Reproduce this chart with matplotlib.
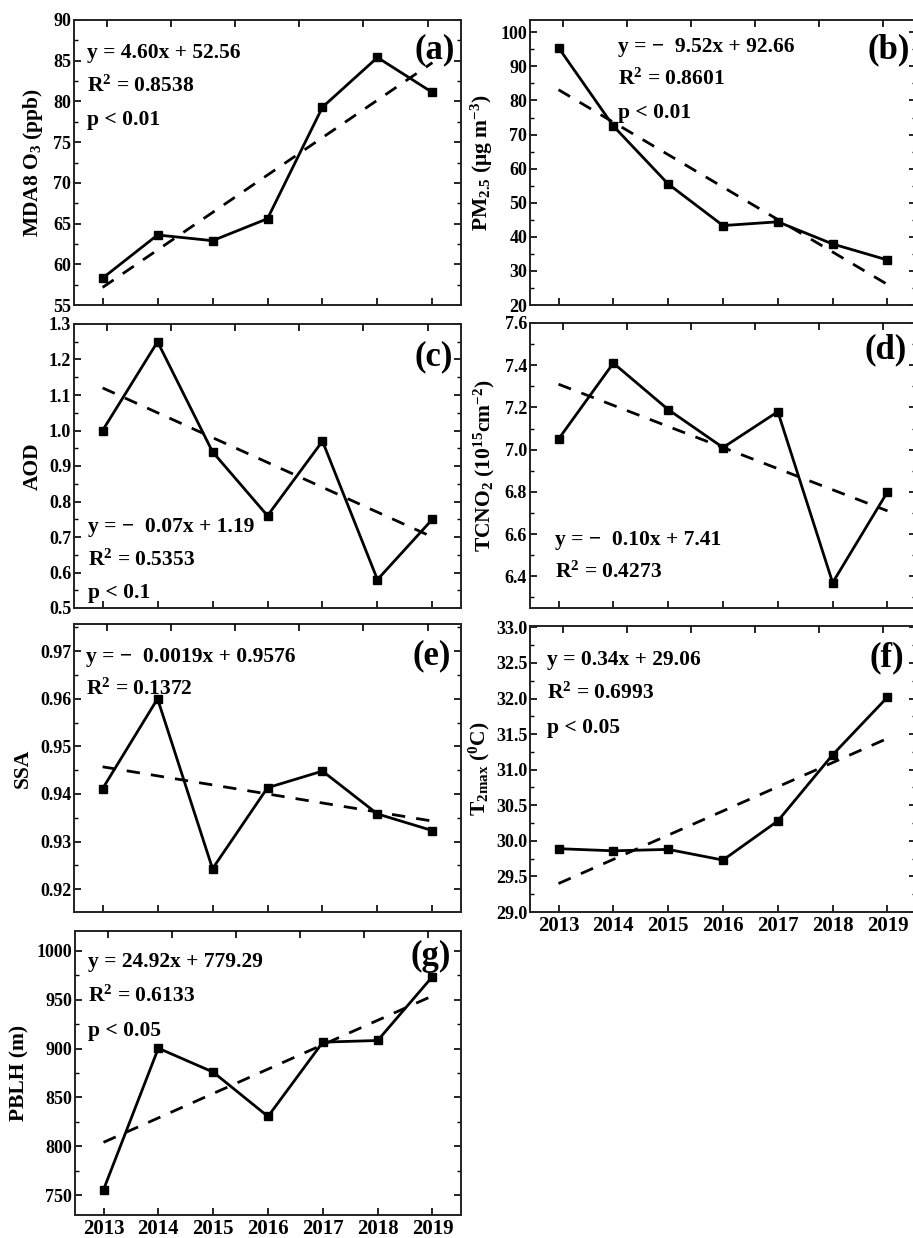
import matplotlib
matplotlib.use("Agg")
import matplotlib.pyplot as plt
import numpy as np
from matplotlib.ticker import MultipleLocator, AutoMinorLocator, FormatStrFormatter

plt.rcParams['font.family'] = ['Liberation Serif', 'DejaVu Serif']
plt.rcParams['font.weight'] = 'bold'
plt.rcParams['mathtext.default'] = 'regular'

years = [2013, 2014, 2015, 2016, 2017, 2018, 2019]

o3 = [58.3, 63.6, 62.9, 65.6, 79.3, 85.4, 81.1]
pm25 = [95.5, 72.5, 55.5, 43.3, 44.4, 37.9, 33.2]
aod = [1.00, 1.25, 0.94, 0.76, 0.97, 0.58, 0.75]
tcno2 = [7.05, 7.41, 7.19, 7.01, 7.18, 6.37, 6.80]
ssa = [0.9411, 0.9600, 0.9243, 0.9413, 0.9448, 0.9358, 0.9323]
t2max = [29.89, 29.86, 29.88, 29.73, 30.28, 31.21, 32.02]
pblh = [755.8, 900.3, 875.9, 830.6, 906.5, 908.2, 973.5]

# trend lines (slope, intercept) with x = 1..7
slopes = [4.60, -9.52, -0.07, -0.10, -0.0019, 0.34, 24.92]
intercepts = [52.56, 92.66, 1.19, 7.41, 0.9476, 29.06, 779.29]

eqs = [["y = 4.60x + 52.56", "R$^2$ = 0.8538", "p < 0.01"],
       ["y = −  9.52x + 92.66", "R$^2$ = 0.8601", "p < 0.01"],
       ["y = −  0.07x + 1.19", "R$^2$ = 0.5353", "p < 0.1"],
       ["y = −  0.10x + 7.41", "R$^2$ = 0.4273"],
       ["y = −  0.0019x + 0.9576", "R$^2$ = 0.1372"],
       ["y = 0.34x + 29.06", "R$^2$ = 0.6993", "p < 0.05"],
       ["y = 24.92x + 779.29", "R$^2$ = 0.6133", "p < 0.05"]]

ylabels = ["MDA8 O$_3$ (ppb)", "PM$_{2.5}$ (μg m$^{-3}$)", "AOD",
           "TCNO$_2$ (10$^{15}$cm$^{-2}$)", "SSA", "T$_{2max}$ ($^0$C)", "PBLH (m)"]
tags = ["(a)", "(b)", "(c)", "(d)", "(e)", "(f)", "(g)"]
series = [o3, pm25, aod, tcno2, ssa, t2max, pblh]

ylims = [(55, 90), (20, 103.6), (0.5, 1.3), (6.25, 7.6), (0.9152, 0.9757), (29, 33.02), (730, 1020)]
ysteps = [5, 10, 0.1, 0.2, 0.01, 0.5, 50]
yfmts = ['%d', '%d', '%.1f', '%.1f', '%.2f', '%.1f', '%d']

# axes rectangles in pixels: left, top, right, bottom
W, H = 913, 1238
boxes = [(74, 20, 461, 305), (530, 20, 916, 305),
         (74, 324, 461, 608), (530, 323, 916, 608),
         (74, 624, 461, 912), (530, 626, 916, 912),
         (75, 931, 461, 1215)]
# text placement (axes fraction)
eq_x = [0.034, 0.229, 0.036, 0.066, 0.031, 0.045, 0.034]
eq_y = [[0.884, 0.768, 0.65], [0.905, 0.793, 0.674], [0.285, 0.169, 0.053],
        [0.239, 0.126], [0.885, 0.774], [0.881, 0.766, 0.643], [0.891, 0.771, 0.648]]
tag_y = [0.895, 0.895, 0.884, 0.905, 0.89, 0.888, 0.91]
tag_x = [0.985, 0.985, 0.98, 0.975, 0.975, 0.97, 0.975]
lab_x = [-0.106, -0.124, -0.106, -0.117, -0.132, -0.13, -0.145]

fig = plt.figure(figsize=(W / 100, H / 100), dpi=100)

for i in range(7):
    l, t, r, b = boxes[i]
    ax = fig.add_axes([l / W, 1 - b / H, (r - l) / W, (b - t) / H])
    x = np.array(years)
    ax.plot(x, series[i], color='black', lw=2.0, marker='s', ms=5.5, zorder=3)
    idx = np.arange(1, 8)
    ax.plot(x, slopes[i] * idx + intercepts[i], color='black', lw=2.0,
            linestyle=(0, (4.8, 4.0)), zorder=2)
    ax.set_xlim(2012.48, 2019.52)
    ax.set_ylim(*ylims[i])
    ax.set_xticks(years)
    if i in (5, 6):
        ax.set_xticklabels([str(y) for y in years], fontsize=15, fontweight='bold')
    else:
        ax.set_xticklabels([])
    ax.yaxis.set_major_locator(MultipleLocator(ysteps[i]))
    ax.yaxis.set_minor_locator(AutoMinorLocator(2))
    ax.yaxis.set_major_formatter(FormatStrFormatter(yfmts[i]))
    ax.tick_params(axis='y', which='both', direction='in', left=True, right=True,
                   labelsize=13, pad=2)
    ax.tick_params(axis='y', which='major', length=5, width=1.2)
    ax.tick_params(axis='y', which='minor', length=3, width=1.0)
    ax.tick_params(axis='x', which='major', direction='in', length=5, width=1.2,
                   top=False, pad=3)
    for lab in ax.get_yticklabels():
        lab.set_fontweight('bold')
    for sp in ax.spines.values():
        sp.set_linewidth(1.4)
        sp.set_color('#222222')

    top = ax.twiny()
    top.set_xlim(0.49, 6.52)
    top.set_xticks([1, 2, 3, 4, 5, 6])
    top.set_xticklabels([])
    top.tick_params(axis='x', direction='in', length=5, width=1.2)
    for sp in top.spines.values():
        sp.set_visible(False)

    ax.set_ylabel(ylabels[i], fontsize=15.5, fontweight='bold', va='center')
    ax.yaxis.set_label_coords(lab_x[i], 0.5)

    for line, yy in zip(eqs[i], eq_y[i]):
        ax.text(eq_x[i], yy, line, transform=ax.transAxes, fontsize=15.5,
                fontweight='bold', ha='left', va='center', zorder=4)
    ax.text(tag_x[i], tag_y[i], tags[i], transform=ax.transAxes, fontsize=25,
            fontweight='bold', ha='right', va='center')

fig.savefig('out.png', dpi=100)
